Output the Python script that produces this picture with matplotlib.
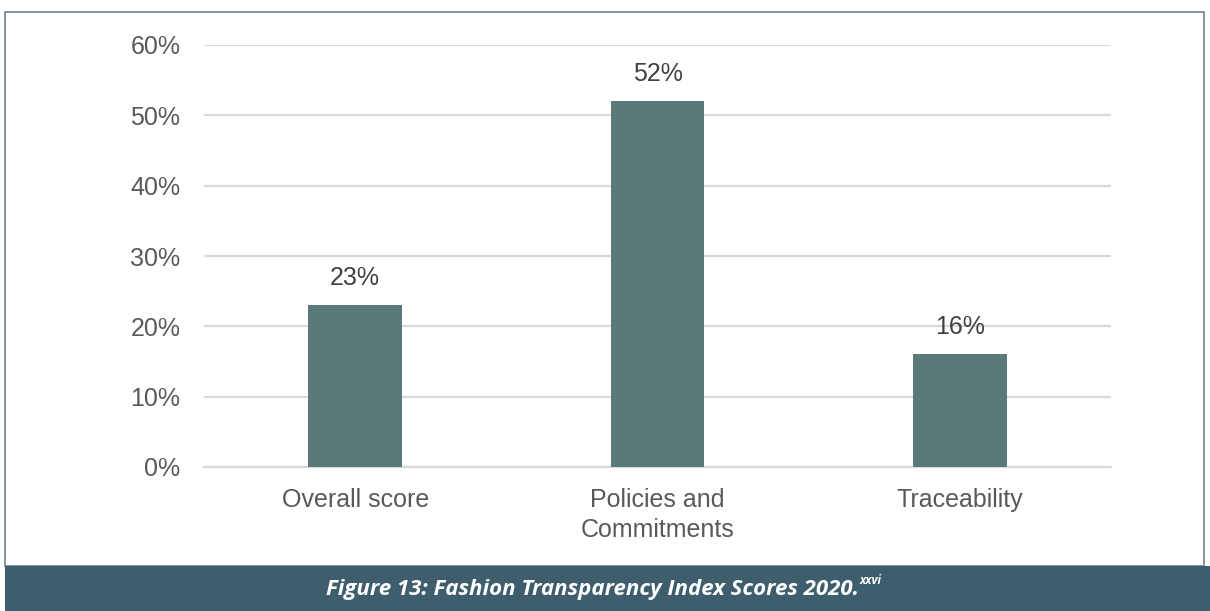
import matplotlib.pyplot as plt
import matplotlib.ticker as ticker
from matplotlib.patches import Rectangle
import numpy as np

categories = ['Overall score', 'Policies and\nCommitments', 'Traceability']
scores = [23, 52, 16]
ticks = [0, 10, 20, 30, 40, 50, 60]

W, H = 1210, 611
fig = plt.figure(figsize=(W / 100, H / 100), dpi=100)
plt.rcParams['font.family'] = ['Liberation Sans', 'DejaVu Sans']

# frame round the chart and caption band
fig.patches.append(Rectangle((5 / W, (H - 566) / H), (W - 6 - 5) / W, (566 - 12) / H,
                             transform=fig.transFigure, fill=False,
                             edgecolor='#6E8591', linewidth=1.2))
fig.patches.append(Rectangle((5 / W, 0), (W - 5) / W, (611 - 566) / H,
                             transform=fig.transFigure, facecolor='#3F5E6D',
                             edgecolor='none'))
fig.text(593 / W, (H - 589) / H, 'Figure 13: Fashion Transparency Index Scores 2020.',
         ha='center', va='center', color='white', fontsize=16,
         family='Open Sans', style='italic', weight='bold')
fig.text(860 / W, (H - 580) / H, 'xxvi',
         ha='left', va='center', color='white', fontsize=8.5,
         family='Open Sans', style='italic', weight='bold')

ax = fig.add_axes([204 / W, (H - 467) / H, (1111 - 204) / W, (467 - 45) / H])
x = np.arange(len(categories))
ax.bar(x, scores, width=0.31, color='#5C7979', zorder=3)

for xi, v in zip(x, scores):
    ax.text(xi, v + 2.2, f'{v}%', ha='center', va='bottom',
            fontsize=18, color='#404040')

ax.set_xlim(-0.5, 2.5)
ax.set_ylim(0, 60)
ax.set_yticks(ticks)
ax.yaxis.set_major_formatter(ticker.FuncFormatter(lambda v, p: f'{v:.0f}%'))
ax.set_xticks(x)
ax.set_xticklabels(categories, linespacing=1.35)
ax.tick_params(axis='both', length=0, labelsize=18, labelcolor='#595959')
ax.tick_params(axis='y', pad=17)
ax.tick_params(axis='x', pad=15)
ax.grid(axis='y', color='#D9D9D9', linewidth=1.6, zorder=0)
for s in ['top', 'right', 'left']:
    ax.spines[s].set_visible(False)
ax.spines['bottom'].set_color('#D9D9D9')
ax.spines['bottom'].set_linewidth(1.6)

fig.savefig('out.png', dpi=100)
